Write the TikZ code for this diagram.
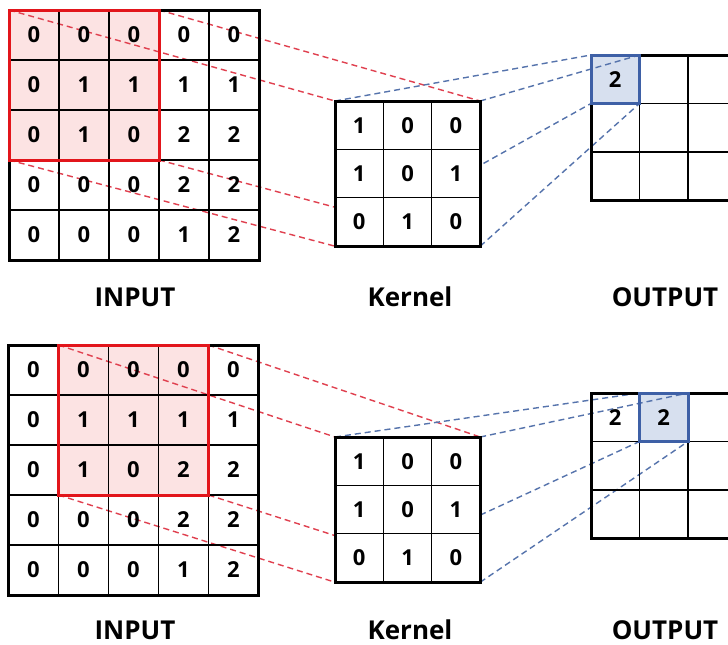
\documentclass[tikz,border=0pt]{standalone}
\usepackage{fontspec}
\setmainfont{Open Sans}
\usetikzlibrary{fit}
\pgfdeclarelayer{fills}
\pgfdeclarelayer{links}
\pgfsetlayers{fills,links,main}

\definecolor{winred}{HTML}{E2151B}
\definecolor{winfill}{HTML}{FCE3E3}
\definecolor{linkred}{HTML}{E0404F}
\definecolor{pickblue}{HTML}{3E60A6}
\definecolor{pickfill}{HTML}{D7E0EF}
\definecolor{linkblue}{HTML}{5573AC}

\tikzset{
  cellbox/.style={draw=black, line width=1.3pt, inner sep=0pt, outer sep=0pt,
    font=\bfseries\fontsize{22}{22}\selectfont},
  kernelcell/.style={cellbox, fill=white},
  gridframe/.style={draw=black, line width=3pt, inner sep=0pt, outer sep=0pt},
  window/.style={draw=winred, line width=3pt, inner sep=0pt, outer sep=0pt},
  windowfill/.style={fill=winfill, inner sep=0pt, outer sep=0pt},
  pick/.style={draw=pickblue, line width=3pt, inner sep=0pt, outer sep=0pt},
  pickshade/.style={fill=pickfill, inner sep=0pt, outer sep=0pt},
  redlink/.style={draw=linkred, line width=1.4pt, dash pattern=on 6pt off 4pt},
  bluelink/.style={draw=linkblue, line width=1.4pt, dash pattern=on 6pt off 4pt},
  caption/.style={font=\bfseries\fontsize{26}{26}\selectfont, anchor=base, inner sep=0pt},
}

\newcommand\emptycell{}
% #1 cell style, #2 name prefix, #3 left x, #4 top y, #5 cell size, #6 rows of values
\newcommand\gridcells[6]{%
  \foreach \rowvals [count=\gr] in {#6} {
    \foreach \v [count=\gc] in \rowvals {
      \node[#1, minimum size=#5pt] (#2-\gr-\gc)
        at ({#3+(\gc-0.5)*#5}, {#4+(\gr-0.5)*#5}) {\v};
    }
  }%
}

\begin{document}
\begin{tikzpicture}[x=1pt, y=-1pt]
\clip (0,0) rectangle (728,645);
\begin{pgfonlayer}{fills}
  \fill[white] (0,0) rectangle (728,645);
\end{pgfonlayer}

% ---------- upper panel ----------
\gridcells{cellbox}{ia}{9}{10}{50}{{0,0,0,0,0},{0,1,1,1,1},{0,1,0,2,2},{0,0,0,2,2},{0,0,0,1,2}}
\node[gridframe, fit=(ia-1-1)(ia-5-5)] (fa) {};
\begin{pgfonlayer}{fills}
  \node[windowfill, fit=(ia-1-1)(ia-3-3)] (wafill) {};
\end{pgfonlayer}
\node[window, fit=(ia-1-1)(ia-3-3)] (wa) {};

\gridcells{kernelcell}{ka}{335}{101}{48.4}{{1,0,0},{1,0,1},{0,1,0}}
\node[gridframe, fit=(ka-1-1)(ka-3-3)] (kfa) {};

\gridcells{cellbox}{oa}{591}{55}{48.5}{{2,\emptycell,\emptycell},{\emptycell,\emptycell,\emptycell},{\emptycell,\emptycell,\emptycell}}
\node[gridframe, fit=(oa-1-1)(oa-3-3)] (foa) {};
\begin{pgfonlayer}{fills}
  \node[pickshade, fit=(oa-1-1)] (hafill) {};
\end{pgfonlayer}
\node[pick, fit=(oa-1-1)] (ha) {};

% dashed links: under the kernel's white cells, over the fills
\begin{pgfonlayer}{links}
  \draw[redlink] (wa.north west) -- (kfa.north west);
  \draw[redlink] (wa.north east) -- (kfa.north east);
  \draw[redlink] (wa.south west) -- (kfa.south west);
  \draw[redlink] (wa.south east) -- (kfa.south east);
  \draw[bluelink] (kfa.north west) -- (ha.north west);
  \draw[bluelink] (kfa.north east) -- (ha.north east);
  \draw[bluelink] (kfa.south west) -- (ha.south west);
  \draw[bluelink] (kfa.south east) -- (ha.south east);
\end{pgfonlayer}

\node[caption] (la) at (135,306) {INPUT};
\node[caption] (lk) at (410,306) {Kernel};
\node[caption] (lo) at (665,306) {OUTPUT};

% ---------- lower panel ----------
\gridcells{cellbox}{ib}{8.5}{345}{50}{{0,0,0,0,0},{0,1,1,1,1},{0,1,0,2,2},{0,0,0,2,2},{0,0,0,1,2}}
\node[gridframe, fit=(ib-1-1)(ib-5-5)] (fb) {};
\begin{pgfonlayer}{fills}
  \node[windowfill, fit=(ib-1-2)(ib-3-4)] (wbfill) {};
\end{pgfonlayer}
\node[window, fit=(ib-1-2)(ib-3-4)] (wb) {};

\gridcells{kernelcell}{kb}{335}{437}{48.4}{{1,0,0},{1,0,1},{0,1,0}}
\node[gridframe, fit=(kb-1-1)(kb-3-3)] (kfb) {};

\gridcells{cellbox}{ob}{591}{393}{48.5}{{2,2,\emptycell},{\emptycell,\emptycell,\emptycell},{\emptycell,\emptycell,\emptycell}}
\node[gridframe, fit=(ob-1-1)(ob-3-3)] (fob) {};
\begin{pgfonlayer}{fills}
  \node[pickshade, fit=(ob-1-2)] (hbfill) {};
\end{pgfonlayer}
\node[pick, fit=(ob-1-2)] (hb) {};

\begin{pgfonlayer}{links}
  \draw[redlink] (wb.north west) -- (kfb.north west);
  \draw[redlink] (wb.north east) -- (kfb.north east);
  \draw[redlink] (wb.south west) -- (kfb.south west);
  \draw[redlink] (wb.south east) -- (kfb.south east);
  \draw[bluelink] (kfb.north west) -- (hb.north west);
  \draw[bluelink] (kfb.north east) -- (hb.north east);
  \draw[bluelink] (kfb.south west) -- (hb.south west);
  \draw[bluelink] (kfb.south east) -- (hb.south east);
\end{pgfonlayer}

\node[caption] (lb) at (135,639) {INPUT};
\node[caption] (lkb) at (410,639) {Kernel};
\node[caption] (lob) at (665,639) {OUTPUT};
\end{tikzpicture}
\end{document}
